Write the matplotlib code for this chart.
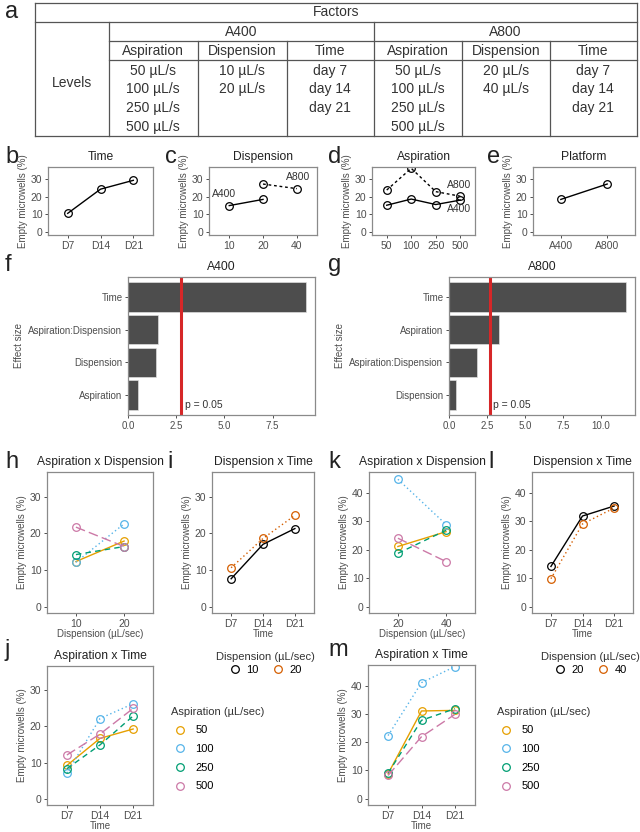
import matplotlib
matplotlib.use("Agg")
import matplotlib.pyplot as plt
from matplotlib.lines import Line2D

plt.rcParams['font.family'] = ['Liberation Sans', 'DejaVu Sans']

# ---- data ----
# panel a table
tab_levels_asp = ['50 µL/s', '100 µL/s', '250 µL/s', '500 µL/s']
tab_a400_disp = ['10 µL/s', '20 µL/s']
tab_a800_disp = ['20 µL/s', '40 µL/s']
tab_time = ['day 7', 'day 14', 'day 21']

# main effects (b-e)
time_lv = ['D7', 'D14', 'D21']
time_main = [10.5, 24.2, 29.2]
disp_lv = ['10', '20', '40']
disp_a400 = [14.9, 18.4]
disp_a800 = [27.1, 24.5]
asp_lv = ['50', '100', '250', '500']
asp_a400 = [15.1, 18.6, 15.5, 18.0]
asp_a800 = [23.7, 36.0, 22.8, 20.2]
platform_lv = ['A400', 'A800']
platform_val = [18.4, 27.1]

# effect sizes (f, g), bottom to top
eff_a400_terms = ['Aspiration', 'Dispension', 'Aspiration:Dispension', 'Time']
eff_a400 = [0.52, 1.46, 1.58, 9.24]
eff_a800_terms = ['Dispension', 'Aspiration:Dispension', 'Aspiration', 'Time']
eff_a800 = [0.45, 1.86, 3.27, 11.66]
crit_a400 = 2.74
crit_a800 = 2.72

# interactions, A400 (h, i, j)
disp_lv_a400 = ['10', '20']
asp_disp_a400 = [[12.3, 17.9], [12.1, 22.6], [14.2, 16.4], [21.7, 16.4]]
disp_time_a400 = [[7.6, 17.0, 21.3], [10.6, 18.6, 24.9]]
asp_time_a400 = [[9.2, 16.7, 19.3], [7.1, 22.2, 26.3], [8.3, 14.9, 22.9], [12.1, 17.9, 25.0]]

# interactions, A800 (k, l, m)
disp_lv_a800 = ['20', '40']
asp_disp_a800 = [[21.1, 26.3], [44.7, 28.8], [18.7, 26.8], [24.0, 15.8]]
disp_time_a800 = [[14.1, 31.8, 35.3], [9.8, 29.0, 34.6]]
asp_time_a800 = [[8.8, 31.0, 31.2], [22.3, 41.0, 46.7], [9.0, 27.7, 31.8], [8.2, 21.9, 29.8]]

# ---- styles ----
asp_col = ['#E69F00', '#56B4E9', '#009E73', '#CC79A7']
asp_ls = ['-', (0, (1, 2)), (0, (4, 3)), (0, (7, 3))]
disp_col = ['black', '#D55E00']
disp_ls = ['-', (0, (1, 2))]
BORDER = '#8a8a8a'
TXT = '#4d4d4d'
TICK_FS = 7.5
LAB_FS = 7
TITLE_FS = 8.7

W, H = 640, 832
fig = plt.figure(figsize=(6.4, 8.32), dpi=100)

ov = fig.add_axes([0, 0, 1, 1])
ov.set_xlim(0, W)
ov.set_ylim(H, 0)
ov.axis('off')


def px_axes(l, t, r, b):
    return fig.add_axes([l / W, 1 - b / H, (r - l) / W, (b - t) / H])


def style(ax, ylim=None, yticks=None, fs=TICK_FS):
    for s in ax.spines.values():
        s.set_color(BORDER)
        s.set_linewidth(0.9)
    ax.tick_params(length=2.5, width=0.6, color='#333333', labelsize=fs,
                   labelcolor=TXT, pad=1.5)
    if ylim is not None:
        ax.set_ylim(*ylim)
        ax.set_yticks(yticks)


def catplot(ax, vals, col='black', ls='-', offset=0, lw=1.0):
    ax.plot(range(offset, offset + len(vals)), vals, color=col, ls=ls, lw=lw,
            marker='o', ms=5.5, mfc='none', mew=0.9, mec=col)


def letter(x, y, s):
    ov.text(x, y, s, fontsize=17, ha='left', va='center', color='#222222')


def ylab(ax):
    ax.set_ylabel('Empty microwells (%)', fontsize=LAB_FS, color=TXT, labelpad=2)


def title(ax, s):
    ax.set_title(s, fontsize=TITLE_FS, color='#222222', pad=5)


# ---- panel a: table ----
lc = '#555555'
for y, x0 in [(3, 35), (22, 35), (41, 109), (60, 109), (136, 35)]:
    ov.plot([x0, 637], [y, y], color=lc, lw=0.9)
for x, y0 in [(35, 3), (637, 3), (109, 22), (374, 22), (198, 41), (287, 41), (462, 41), (550, 41)]:
    ov.plot([x, x], [y0, 136], color=lc, lw=0.9)
tk = dict(fontsize=10, ha='center', va='center', color='#333333')
ov.text(336, 12.5, 'Factors', **tk)
ov.text(241, 32, 'A400', **tk)
ov.text(505, 32, 'A800', **tk)
ov.text(72, 83, 'Levels', **tk)
heads = ['Aspiration', 'Dispension', 'Time']
col_cx = [153, 242, 330, 418, 506, 593]
for i, h in enumerate(heads + heads):
    ov.text(col_cx[i], 51, h, **tk)
row_y = [71, 89, 108, 127]
for k, lst in enumerate([tab_levels_asp, tab_a400_disp, tab_time,
                         tab_levels_asp, tab_a800_disp, tab_time]):
    for j, s in enumerate(lst):
        ov.text(col_cx[k], row_y[j], s, **tk)
letter(5, 12, 'a')

# ---- panels b-e ----
ylim35 = (-1.75, 36.75)
yt35 = [0, 10, 20, 30]
ylim45 = (-2.25, 47.25)
yt45 = [0, 10, 20, 30, 40]
ann = dict(fontsize=7.5, color='#333333', ha='center', va='center')

ax = px_axes(48, 167, 153, 235)
catplot(ax, time_main)
ax.set_xticks(range(3), time_lv)
ax.set_xlim(-0.6, 2.6)
style(ax, ylim35, yt35)
ylab(ax)
title(ax, 'Time')
letter(5, 157, 'b')

ax = px_axes(209, 167, 317, 235)
catplot(ax, disp_a400)
catplot(ax, disp_a800, ls=(0, (2, 2)), offset=1)
ax.set_xticks(range(3), disp_lv)
ax.set_xlim(-0.6, 2.6)
style(ax, ylim35, yt35)
ylab(ax)
ax.text(-0.15, 21.4, 'A400', **ann)
ax.text(2.03, 31.2, 'A800', **ann)
title(ax, 'Dispension')
letter(165, 157, 'c')

ax = px_axes(372, 167, 475, 235)
catplot(ax, asp_a400)
catplot(ax, asp_a800, ls=(0, (2, 2)))
ax.set_xticks(range(4), asp_lv)
ax.set_xlim(-0.6, 3.6)
style(ax, ylim35, yt35)
ylab(ax)
ax.text(2.95, 26.5, 'A800', **ann)
ax.text(2.95, 12.7, 'A400', **ann)
title(ax, 'Aspiration')
letter(328, 157, 'd')

ax = px_axes(533, 167, 635, 235)
catplot(ax, platform_val)
ax.set_xticks(range(2), platform_lv)
ax.set_xlim(-0.6, 1.6)
style(ax, ylim35, yt35)
ylab(ax)
title(ax, 'Platform')
letter(487, 157, 'e')

# ---- panels f, g: effect sizes ----
for (l, r, terms, vals, crit, ticks, name, lx, lt) in [
        (128, 315, eff_a400_terms, eff_a400, crit_a400, [0, 2.5, 5, 7.5], 'A400', 5, 'f'),
        (449, 635, eff_a800_terms, eff_a800, crit_a800, [0, 2.5, 5, 7.5, 10], 'A800', 328, 'g')]:
    ax = px_axes(l, 277, r, 415)
    ax.barh(range(4), vals, height=0.9, color='#4d4d4d', edgecolor='#dddddd', lw=0.5)
    ax.axvline(crit, color='#d62728', lw=2.2)
    ax.text(crit + 0.2, -0.3, 'p = 0.05', fontsize=7.5, color='#333333', ha='left', va='center')
    ax.set_yticks(range(4), terms)
    ax.set_xticks(ticks, ['%.1f' % t for t in ticks])
    ax.set_ylim(-0.6, 3.6)
    ax.margins(x=0.05)
    style(ax, fs=7)
    ax.set_ylabel('Effect size', fontsize=LAB_FS, color=TXT, labelpad=3)
    title(ax, name)
    letter(lx, 265, lt)


# ---- interaction panels ----
def interaction(ax, groups, cols, lss, xlabels, ylim, yt, name, xlabel):
    for vals, c, ls in zip(groups, cols, lss):
        catplot(ax, vals, col=c, ls=ls)
    ax.set_xticks(range(len(xlabels)), xlabels)
    ax.set_xlim(-0.6, len(xlabels) - 0.4)
    style(ax, ylim, yt)
    ylab(ax)
    title(ax, name)
    ax.set_xlabel(xlabel, fontsize=LAB_FS, color=TXT, labelpad=0)


ax = px_axes(47, 472, 153, 613)
interaction(ax, asp_disp_a400, asp_col, asp_ls, disp_lv_a400, ylim35, yt35,
            'Aspiration x Dispension', 'Dispension (µL/sec)')
letter(5, 462, 'h')
ax = px_axes(212, 472, 314, 613)
interaction(ax, disp_time_a400, disp_col, disp_ls, time_lv, ylim35, yt35,
            'Dispension x Time', 'Time')
letter(167, 462, 'i')
ax = px_axes(369, 472, 475, 613)
interaction(ax, asp_disp_a800, asp_col, asp_ls, disp_lv_a800, ylim45, yt45,
            'Aspiration x Dispension', 'Dispension (µL/sec)')
letter(328, 462, 'k')
ax = px_axes(532, 472, 633, 613)
interaction(ax, disp_time_a800, disp_col, disp_ls, time_lv, ylim45, yt45,
            'Dispension x Time', 'Time')
letter(488, 462, 'l')

ax = px_axes(47, 666, 153, 805)
interaction(ax, asp_time_a400, asp_col, asp_ls, time_lv, ylim35, yt35,
            'Aspiration x Time', 'Time')
letter(5, 650, 'j')
ax = px_axes(368, 665, 475, 805)
interaction(ax, asp_time_a800, asp_col, asp_ls, time_lv, ylim45, yt45,
            'Aspiration x Time', 'Time')
letter(328, 650, 'm')


# ---- legends ----
def handles(cols):
    return [Line2D([], [], ls='none', marker='o', ms=5.5, mfc='none', mew=0.9, mec=c)
            for c in cols]


for cx, labs in [(265, disp_lv_a400), (590, disp_lv_a800)]:
    lg = fig.legend(handles(disp_col), labs, title='Dispension (µL/sec)', ncol=2,
                    loc='upper center', bbox_to_anchor=(cx / W, 1 - 644 / H),
                    frameon=False, fontsize=8, title_fontsize=8,
                    handletextpad=0.4, columnspacing=1.2, handlelength=1.2,
                    borderpad=0.2, labelspacing=0.3)
    lg.get_title().set_color('#333333')

for lx, labs in [(163, asp_lv), (489, asp_lv)]:
    lg = fig.legend(handles(asp_col), labs, title='Aspiration (µL/sec)',
                    loc='upper left', bbox_to_anchor=(lx / W, 1 - 699 / H),
                    frameon=False, fontsize=8, title_fontsize=8,
                    handletextpad=0.6, handlelength=1.6, labelspacing=0.78,
                    borderpad=0.2)
    lg._legend_box.align = 'left'
    lg.get_title().set_color('#333333')

fig.savefig('out.png', dpi=100)
